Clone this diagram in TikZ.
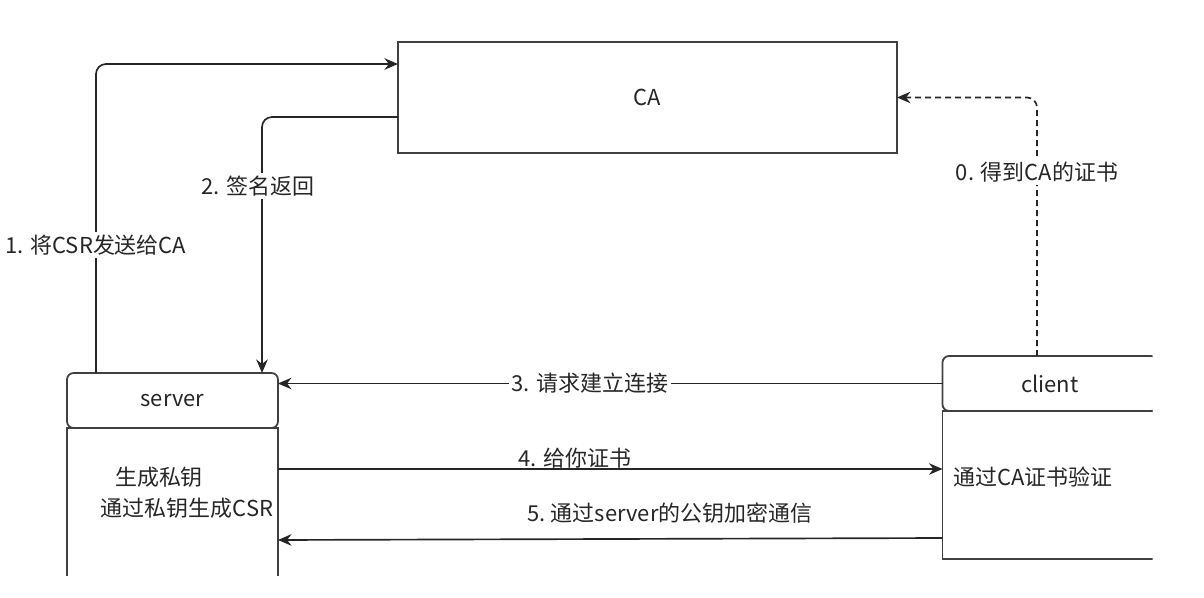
\documentclass[tikz,border=0pt]{standalone}
\usepackage{fontspec}
\setmainfont{Noto Sans CJK SC}
\usetikzlibrary{arrows.meta, positioning}

\begin{document}
\begin{tikzpicture}[
  x=0.02cm, y=-0.02cm,
  every node/.style={font=\fontsize{12.5}{15}\selectfont, text=black!85},
  box/.style={draw=black!75, line width=1pt, inner sep=0pt, outer sep=0pt},
  head/.style={box, fill=white, rounded corners=1.3mm, minimum height=1.1cm},
  arr/.style={-{Stealth[length=2.7mm, width=2.3mm]}, line width=0.95pt, draw=black!85},
  lbl/.style={fill=white, inner sep=1.5pt}
]
\useasboundingbox (0,0) rectangle (1204,598);
\begin{scope}
\clip (0,0) rectangle (1152.5,575);
\node[box, minimum width=9.98cm, minimum height=2.22cm] (ca) at (647.5,97.5) {CA};
% server
\node[box, minimum width=4.22cm, minimum height=3.84cm, anchor=north] (servbody) at (172.5,428) {};
\node[head, minimum width=4.22cm] (servhead) at (172.5,400.5) {server};
\node (keygen) at (159,477) {生成私钥};
\node (mkcsr) at (187,508) {通过私钥生成CSR};
% client
\node[box, minimum width=4.3cm, minimum height=2.96cm, anchor=north] (clibody) at (1050,411) {};
\node[head, minimum width=4.3cm] (clihead) at (1050,383.5) {client};
\node[anchor=west] (verify) at (947,477) {通过CA证书验证};
\end{scope}

\coordinate (s1) at (96,373);
\coordinate (ca1) at (398,64);
\coordinate (ca2) at (398,117);
\coordinate (s2) at (262,373);
\coordinate (c0) at (1037,356);

\draw[arr, rounded corners=2mm] (s1) |- (ca1);
\draw[arr, rounded corners=2mm] (ca2) -| (s2);
\draw[arr, dash pattern=on 1.2mm off 0.8mm, rounded corners=2mm] (c0) |- (ca.east);
\draw[arr] (clihead.west) -- (clihead.west -| servhead.east);
\draw[arr] (servbody.east |- 0,469) -- (clibody.west |- 0,469);
\draw[arr] (clibody.west |- 0,538) -- (servbody.east |- 0,540);

\node[lbl] (lsend) at (96,245) {1. 将CSR发送给CA};
\node[lbl] (lsign) at (258,186) {2. 签名返回};
\node[lbl] (lget) at (1037,172) {0. 得到CA的证书};
\node[lbl] (lreq) at (590,383) {3. 请求建立连接};
\node (lcert) at (575,458) {4. 给你证书};
\node (lenc) at (670,513) {5.\ 通过server的公钥加密通信};
\end{tikzpicture}
\end{document}
